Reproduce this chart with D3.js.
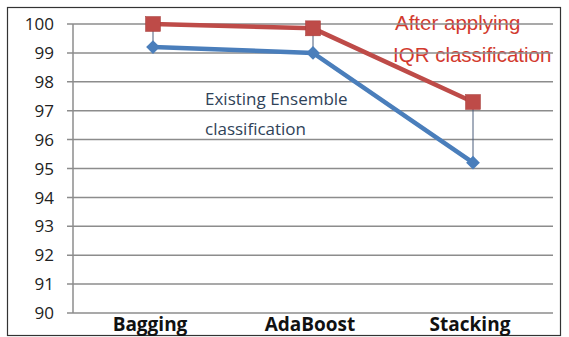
<!DOCTYPE html>
<html>
<head>
<meta charset="utf-8">
<script src="https://cdn.jsdelivr.net/npm/d3@7"></script>
<style>
  body { margin: 0; background: #fff; }
  svg { display: block; font-family: "Open Sans", sans-serif; }
</style>
</head>
<body>
<div id="chart"></div>
<script>
const categories = ["Bagging", "AdaBoost", "Stacking"];
const iqrValues = [100, 99.85, 97.3];
const ensembleValues = [99.2, 99.0, 95.2];
const yTicks = [90, 91, 92, 93, 94, 95, 96, 97, 98, 99, 100];
const redNote = ["After applying", "IQR classification"];
const blueNote = ["Existing Ensemble", "classification"];

const W = 569, H = 337;
const svg = d3.select("#chart").append("svg")
    .attr("width", W)
    .attr("height", H);

// outer frame
svg.append("rect")
    .attr("x", 7.5).attr("y", 7.5)
    .attr("width", 553).attr("height", 328)
    .attr("fill", "none")
    .attr("stroke", "#333")
    .attr("stroke-width", 1.2);

const plotLeft = 73, plotRight = 553;
const y = d3.scaleLinear().domain([90, 100]).range([313, 24]);
const x = d3.scaleBand().domain(categories).range([plotLeft, plotRight]);
const cx = d => x(d) + x.bandwidth() / 2;

// red annotation sits under the gridlines
svg.selectAll(".red-note")
    .data(redNote)
    .enter().append("text")
    .attr("x", (d, i) => i === 0 ? 395 : 393)
    .attr("y", (d, i) => 30 + i * 32)
    .style("font-family", "'Liberation Sans', Arial, sans-serif")
    .style("font-size", "20.5px")
    .style("fill", "#d23a2e")
    .text(d => d);

// gridlines
svg.selectAll(".grid")
    .data(yTicks)
    .enter().append("line")
    .attr("x1", plotLeft - 6).attr("x2", plotRight)
    .attr("y1", d => y(d)).attr("y2", d => y(d))
    .attr("stroke", "#8c8c8c")
    .attr("stroke-width", 1.5);

// y axis line
svg.append("line")
    .attr("x1", plotLeft).attr("x2", plotLeft)
    .attr("y1", y(100)).attr("y2", y(90))
    .attr("stroke", "#8c8c8c")
    .attr("stroke-width", 1.5);

// y labels
svg.selectAll(".y-label")
    .data(yTicks)
    .enter().append("text")
    .attr("x", 54)
    .attr("y", d => y(d))
    .attr("dy", "0.36em")
    .attr("text-anchor", "end")
    .style("font-size", "17px")
    .style("fill", "#222")
    .text(d => d);

// x labels
svg.selectAll(".x-label")
    .data(categories)
    .enter().append("text")
    .attr("x", d => cx(d) - 3)
    .attr("y", 331)
    .attr("text-anchor", "middle")
    .style("font-size", "19px")
    .style("font-weight", "bold")
    .style("fill", "#111")
    .text(d => d);

// high-low drop lines
svg.selectAll(".drop")
    .data(categories)
    .enter().append("line")
    .attr("x1", d => cx(d)).attr("x2", d => cx(d))
    .attr("y1", (d, i) => y(iqrValues[i]))
    .attr("y2", (d, i) => y(ensembleValues[i]))
    .attr("stroke", "#4a5d7a")
    .attr("stroke-width", 1);

const line = d3.line()
    .x((d, i) => cx(categories[i]))
    .y(d => y(d));

// ensemble series (blue)
svg.append("path")
    .datum(ensembleValues)
    .attr("d", line)
    .attr("fill", "none")
    .attr("stroke", "#4a7ebb")
    .attr("stroke-width", 4.5);

svg.selectAll(".diamond")
    .data(ensembleValues)
    .enter().append("path")
    .attr("d", d3.symbol().type(d3.symbolDiamond2).size(120))
    .attr("transform", (d, i) => `translate(${cx(categories[i])},${y(d)})`)
    .attr("fill", "#4a7ebb");

// IQR series (red)
svg.append("path")
    .datum(iqrValues)
    .attr("d", line)
    .attr("fill", "none")
    .attr("stroke", "#be4b48")
    .attr("stroke-width", 4.5);

svg.selectAll(".square")
    .data(iqrValues)
    .enter().append("rect")
    .attr("x", (d, i) => cx(categories[i]) - 7.5)
    .attr("y", d => y(d) - 7.5)
    .attr("width", 15).attr("height", 15)
    .attr("fill", "#be4b48")
    .attr("stroke", "#a33d3a")
    .attr("stroke-width", 0.5);

// blue annotation
svg.selectAll(".blue-note")
    .data(blueNote)
    .enter().append("text")
    .attr("x", 205)
    .attr("y", (d, i) => 105 + i * 30)
    .style("font-size", "17px")
    .style("fill", "#2f4258")
    .text(d => d);
</script>
</body>
</html>
